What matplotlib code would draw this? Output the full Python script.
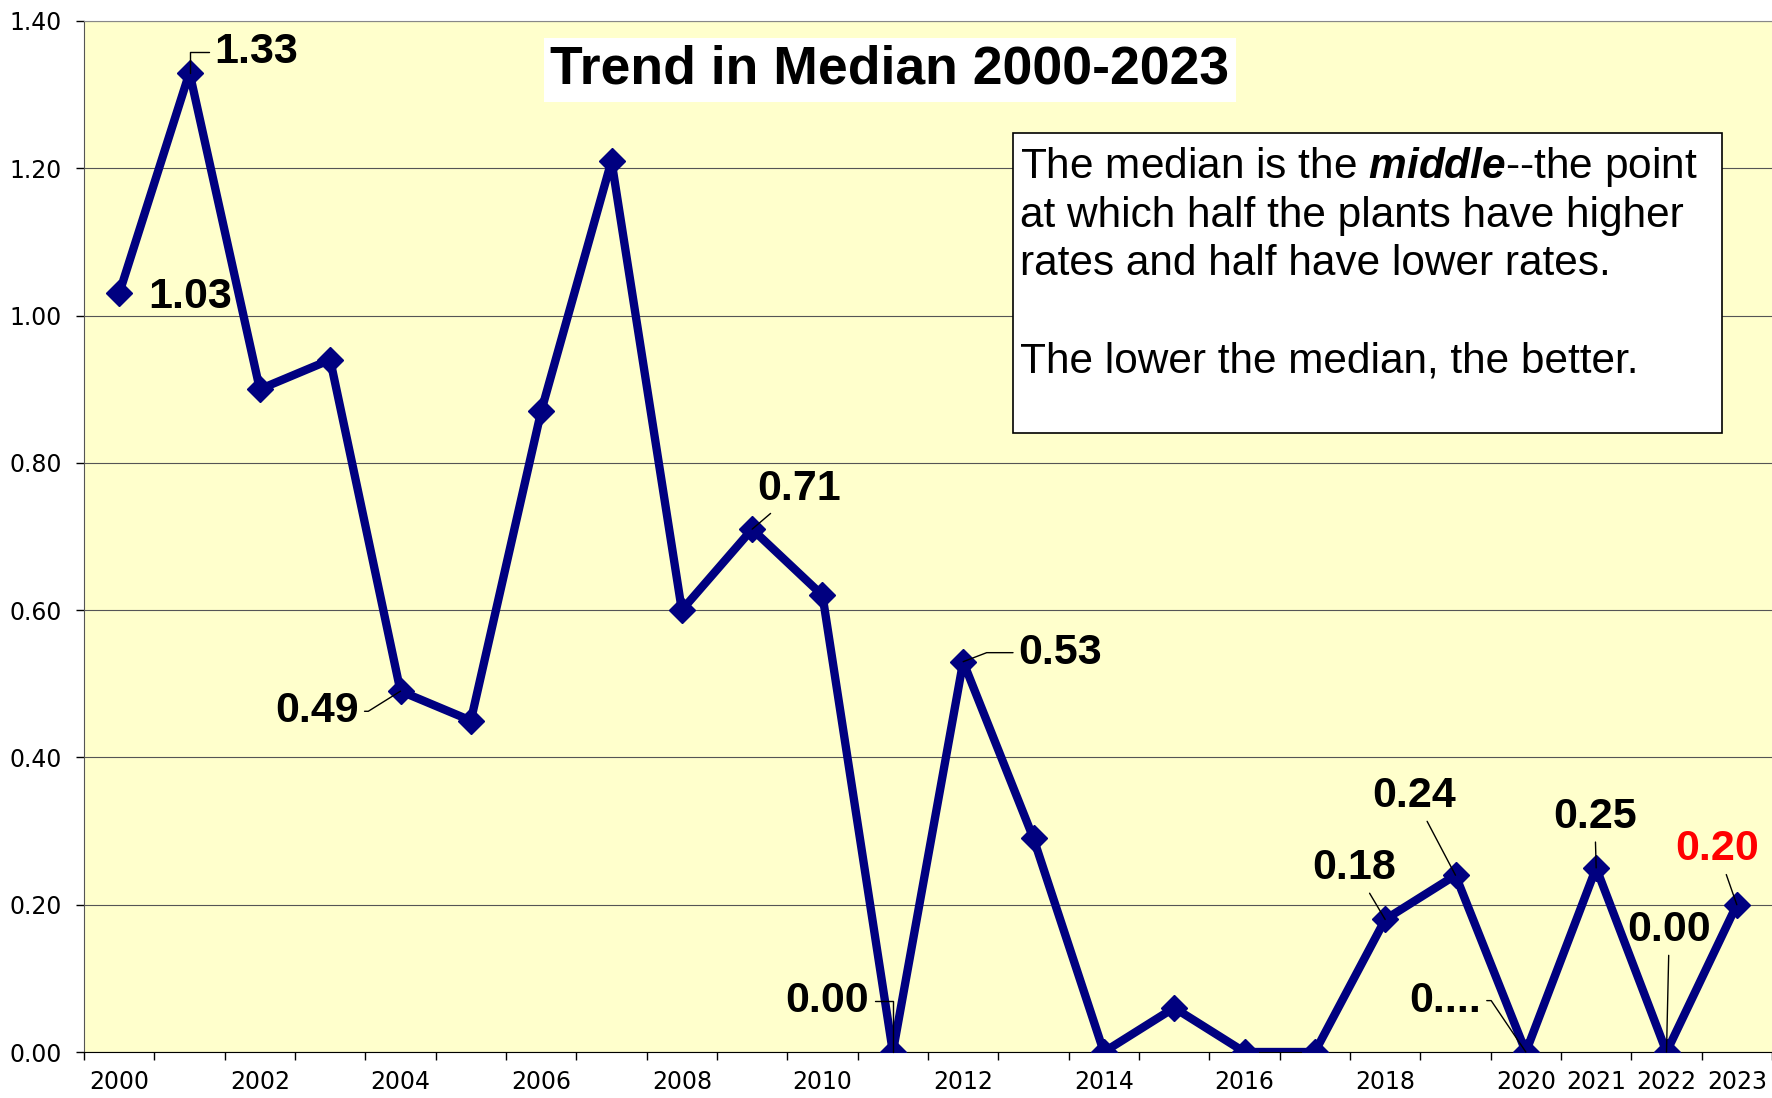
import numpy as np
import matplotlib.pyplot as plt
from matplotlib.patches import Rectangle

plt.rcParams['font.family'] = ['Liberation Sans', 'DejaVu Sans']
plt.rcParams['mathtext.fontset'] = 'custom'
plt.rcParams['mathtext.bfit'] = 'Liberation Sans:italic:bold'

# data
years = list(range(2000, 2024))
median = [1.03, 1.33, 0.90, 0.94, 0.49, 0.45, 0.87, 1.21, 0.60, 0.71, 0.62, 0.00,
          0.53, 0.29, 0.00, 0.06, 0.00, 0.00, 0.18, 0.24, 0.00, 0.25, 0.00, 0.20]
tick_years = [2000, 2002, 2004, 2006, 2008, 2010, 2012, 2014, 2016, 2018,
              2020, 2021, 2022, 2023]
label_years = [2000, 2001, 2004, 2009, 2011, 2012, 2018, 2019, 2020, 2021, 2022, 2023]
label_texts = ['1.03', '1.33', '0.49', '0.71', '0.00', '0.53', '0.18', '0.24',
               '0....', '0.25', '0.00', '0.20']
y_ticks = [0.0, 0.2, 0.4, 0.6, 0.8, 1.0, 1.2, 1.4]

# label placement: offset in points from the point, leader style
label_layout = {
    2000: ((51, -2.5), None),
    2001: ((48, 15), 'angle,angleA=0,angleB=90,rad=0'),
    2004: ((-60, -14.5), 'angle,angleA=0,angleB=212,rad=0'),
    2009: ((34, 29), 'arc3'),
    2011: ((-47, 37), 'angle,angleA=0,angleB=90,rad=0'),
    2012: ((70, 6.5), 'angle,angleA=0,angleB=21,rad=0'),
    2018: ((-22, 37), 'arc3'),
    2019: ((-30, 57), 'arc3'),
    2020: ((-58, 37), 'angle,angleA=0,angleB=124,rad=0'),
    2021: ((-1, 37), 'arc3'),
    2022: ((2, 88), 'arc3'),
    2023: ((-14, 40), 'arc3'),
}

W, H = 1772, 1098
fig = plt.figure(figsize=(W / 100, H / 100), dpi=100)
ax = fig.add_axes([84 / W, 46 / H, (W - 84) / W, (1052 - 21) / H])
ax.set_facecolor('#FFFFCC')

x = np.arange(len(years))
ax.plot(x, median, color='#000080', lw=6, marker='D', markersize=13, zorder=3)

ax.set_xlim(-0.5, len(years) - 0.5)
ax.set_ylim(0, 1.4)
ax.set_yticks(y_ticks)
ax.set_yticklabels([f'{v:.2f}' for v in y_ticks], family='DejaVu Sans')
ax.yaxis.grid(True, color='#555555', lw=0.8)
ax.set_axisbelow(True)

ax.set_xticks([years.index(y) for y in tick_years])
ax.set_xticklabels([str(y) for y in tick_years], family='DejaVu Sans')
ax.set_xticks(np.arange(-0.5, len(years), 1), minor=True)
ax.tick_params(axis='x', which='major', length=0, pad=13, labelsize=17)
ax.tick_params(axis='x', which='minor', length=6, width=1, direction='out')
ax.tick_params(axis='y', length=6, width=1, pad=10, labelsize=17)

ax.spines['right'].set_visible(False)
ax.spines['top'].set_color('#888888')
ax.spines['left'].set_color('#555555')
ax.spines['bottom'].set_color('black')

for yr, txt in zip(label_years, label_texts):
    i = years.index(yr)
    off, conn = label_layout[yr]
    color = 'red' if yr == 2023 else 'black'
    arrow = None
    if conn is not None:
        arrow = dict(arrowstyle='-', color='black', lw=1, shrinkA=2, shrinkB=0,
                     connectionstyle=conn)
    ax.annotate(txt, xy=(i, median[i]), xytext=off, textcoords='offset points',
                ha='center', va='center', fontsize=31, fontweight='bold',
                color=color, arrowprops=arrow, zorder=4)

# title
fig.text(890 / W, 1 - 70 / H, 'Trend in Median 2000-2023', ha='center', va='center',
         fontsize=38.5, fontweight='bold',
         bbox=dict(facecolor='white', edgecolor='none', pad=5))

# info box
fig.add_artist(Rectangle((1013 / W, 1 - 433 / H), (1722 - 1013) / W, (433 - 133) / H,
                         transform=fig.transFigure, facecolor='white',
                         edgecolor='black', lw=1.2, zorder=5))
lines = [r'The median is the $\mathbfit{middle}$--the point',
         'at which half the plants have higher',
         'rates and half have lower rates.',
         '',
         'The lower the median, the better.']
for k, line in enumerate(lines):
    if line:
        fig.text(1020 / W, 1 - (167 + 48.6 * k) / H, line, ha='left', va='center',
                 fontsize=30.5, zorder=6)

fig.savefig('out.png', dpi=100)
